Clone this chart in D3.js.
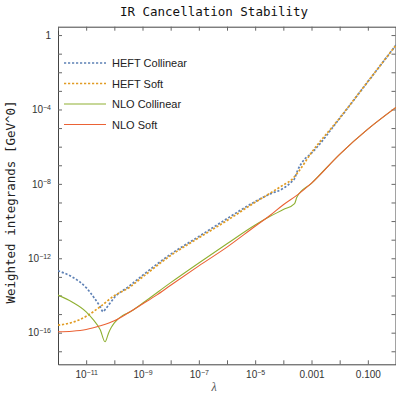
<!DOCTYPE html>
<html>
<head>
<meta charset="utf-8">
<script src="https://cdn.jsdelivr.net/npm/d3@7"></script>
<style>
  body { margin: 0; background: #fff; }
  svg { display: block; }
</style>
</head>
<body>
<div id="container"></div>
<script>
// all values are log10
const heftCollinearX = [-12,-11.5,-11,-10.7,-10.5,-10.4,-10.3,-10.15,-10,-9.5,-9,-8,-7,-6,-5,-4.5,-4,-3.7,-3.6,-3.5,-3.3,-3,-2,-1,0];
const heftCollinear  = [-12.67,-13.0,-13.58,-14.16,-14.61,-14.87,-14.70,-14.41,-14.11,-13.53,-12.92,-11.78,-10.83,-9.87,-8.95,-8.56,-8.24,-7.88,-7.72,-7.30,-6.77,-6.35,-4.48,-2.51,-0.54];

const heftSoftX = [-12,-11.5,-11,-10.5,-10,-9.5,-9,-8,-7,-6,-5,-4.5,-4,-3.7,-3.5,-3,-2,-1,0];
const heftSoft  = [-15.59,-15.45,-15.12,-14.60,-14.01,-13.60,-13.01,-11.85,-10.90,-9.97,-8.99,-8.53,-8.06,-7.77,-7.42,-6.32,-4.46,-2.50,-0.54];

const nloCollinearX = [-12,-11.5,-11,-10.75,-10.5,-10.33,-10.2,-10.1,-10,-9.7,-9.45,-9,-8,-7,-6,-5,-4.5,-4,-3.6,-3.52,-3,-2,-1,0];
const nloCollinear  = [-13.98,-14.35,-14.88,-15.30,-15.84,-16.49,-16.0,-15.7,-15.47,-15.07,-14.89,-14.42,-13.31,-12.25,-11.22,-10.21,-9.77,-9.38,-9.06,-8.72,-7.97,-6.41,-5.06,-3.89];

const nloSoftX = [-12,-11.5,-11,-10.5,-10,-9.5,-9,-8.5,-8,-7,-6,-5,-4.5,-4,-3.5,-3,-2,-1,0];
const nloSoft  = [-15.95,-15.92,-15.83,-15.63,-15.36,-14.93,-14.46,-13.98,-13.45,-12.41,-11.40,-10.28,-9.73,-9.12,-8.59,-7.96,-6.41,-5.06,-3.89];

const seriesNames = ["HEFT Collinear", "HEFT Soft", "NLO Collinear", "NLO Soft"];
const seriesColors = ["#5E81B5", "#E19C24", "#8FB032", "#EB6235"];

const xTickVals = [1e-11, 1e-9, 1e-7, 1e-5, 1e-3, 1e-1];
const xTickText = ["10^−11", "10^−9", "10^−7", "10^−5", "0.001", "0.100"];
const yTickVals = [1, 1e-4, 1e-8, 1e-12, 1e-16];
const yTickText = ["1", "10^−4", "10^−8", "10^−12", "10^−16"];

const width = 396, height = 396;
const margin = { top: 26.7, right: 0, bottom: 31.7, left: 58 };

const svg = d3.select("#container").append("svg")
    .attr("width", width)
    .attr("height", height);

const x = d3.scaleLog().domain([1e-12, 1]).range([margin.left, width - margin.right]);
const y = d3.scaleLog().domain([Math.pow(10, -17.7), Math.pow(10, 0.45)]).range([height - margin.bottom, margin.top]);

const xDecades = d3.range(-12, 1).map(e => Math.pow(10, e));
const yDecades = d3.range(-17, 1).map(e => Math.pow(10, e));

function labelFor(vals, texts) {
  return d => {
    const i = vals.findIndex(v => Math.abs(Math.log10(v) - Math.log10(d)) < 1e-6);
    return i < 0 ? "" : texts[i];
  };
}

// split "10^−4" into base + superscript
function superscript(sel) {
  sel.each(function() {
    const t = d3.select(this);
    const s = t.text();
    if (s.indexOf("^") < 0) return;
    const parts = s.split("^");
    t.text(parts[0]);
    t.append("tspan").attr("dy", "-0.45em").style("font-size", "7px").text(parts[1]);
  });
}

function styleAxis(g) {
  g.select(".domain").attr("stroke", "#444");
  g.selectAll(".tick line").attr("stroke", "#666");
  g.selectAll("text")
    .style("font-family", "'Liberation Sans', Arial, sans-serif")
    .style("font-size", "10px")
    .attr("fill", "#333");
}

const bottomAxis = svg.append("g")
    .attr("transform", "translate(0," + (height - margin.bottom) + ")")
    .call(d3.axisBottom(x).tickValues(xDecades).tickSizeInner(-4).tickSizeOuter(0).tickPadding(7)
      .tickFormat(labelFor(xTickVals, xTickText)));
styleAxis(bottomAxis);
bottomAxis.selectAll("text").call(superscript);

const leftAxis = svg.append("g")
    .attr("transform", "translate(" + margin.left + ",0)")
    .call(d3.axisLeft(y).tickValues(yDecades).tickSizeInner(-4).tickSizeOuter(0).tickPadding(7)
      .tickFormat(labelFor(yTickVals, yTickText)));
styleAxis(leftAxis);
leftAxis.selectAll("text").call(superscript);

const topAxis = svg.append("g")
    .attr("transform", "translate(0," + margin.top + ")")
    .call(d3.axisTop(x).tickValues(xDecades).tickSizeInner(-4).tickSizeOuter(0).tickFormat(""));
styleAxis(topAxis);

const rightAxis = svg.append("g")
    .attr("transform", "translate(" + (width - 0.5) + ",0)")
    .call(d3.axisRight(y).tickValues(yDecades).tickSizeInner(-4).tickSizeOuter(0).tickFormat(""));
styleAxis(rightAxis);

// curves, drawn in legend order so NLO Soft ends up on top
const plot = svg.append("g");
plot.append("clipPath").attr("id", "clip")
  .append("rect").attr("x", margin.left).attr("y", margin.top)
  .attr("width", width - margin.left).attr("height", height - margin.top - margin.bottom);

const line = d3.line()
    .x(d => x(Math.pow(10, d[0])))
    .y(d => y(Math.pow(10, d[1])))
    .curve(d3.curveMonotoneX);

const allSeries = [
  { xs: heftCollinearX, ys: heftCollinear, i: 0, dashed: true },
  { xs: heftSoftX, ys: heftSoft, i: 1, dashed: true },
  { xs: nloCollinearX, ys: nloCollinear, i: 2, dashed: false },
  { xs: nloSoftX, ys: nloSoft, i: 3, dashed: false }
];

allSeries.forEach(s => {
  const pts = s.xs.map((u, k) => [u, s.ys[k]]);
  plot.append("path")
      .attr("clip-path", "url(#clip)")
      .attr("d", line(pts))
      .attr("fill", "none")
      .attr("stroke", seriesColors[s.i])
      .attr("stroke-width", s.dashed ? 1.7 : 1.1)
      .attr("stroke-dasharray", s.dashed ? "2.2,1.8" : null);
});

// legend
const legend = svg.append("g");
seriesNames.forEach((name, i) => {
  const ly = 63 + i * 20.5;
  legend.append("line")
      .attr("x1", 64).attr("x2", 106)
      .attr("y1", ly).attr("y2", ly)
      .attr("stroke", seriesColors[i])
      .attr("stroke-width", i < 2 ? 1.7 : 1.1)
      .attr("stroke-dasharray", i < 2 ? "2.2,1.8" : null);
  legend.append("text")
      .attr("x", 112).attr("y", ly + 4)
      .style("font-family", "'Liberation Sans', Arial, sans-serif")
      .style("font-size", "11px")
      .attr("fill", "#222")
      .text(name);
});

// titles
svg.append("text")
    .attr("x", 214).attr("y", 15.5)
    .attr("text-anchor", "middle")
    .style("font-family", "'DejaVu Sans Mono', monospace")
    .style("font-size", "12.5px")
    .attr("fill", "#111")
    .text("IR Cancellation Stability");

svg.append("text")
    .attr("transform", "translate(15,202) rotate(-90)")
    .attr("text-anchor", "middle")
    .style("font-family", "'DejaVu Sans Mono', monospace")
    .style("font-size", "12.5px")
    .attr("fill", "#222")
    .text("Weighted integrands [GeV^0]");

svg.append("text")
    .attr("x", 214).attr("y", 391)
    .attr("text-anchor", "middle")
    .style("font-family", "'Liberation Serif', serif")
    .style("font-style", "italic")
    .style("font-size", "12px")
    .attr("fill", "#555")
    .text("λ");
</script>
</body>
</html>
